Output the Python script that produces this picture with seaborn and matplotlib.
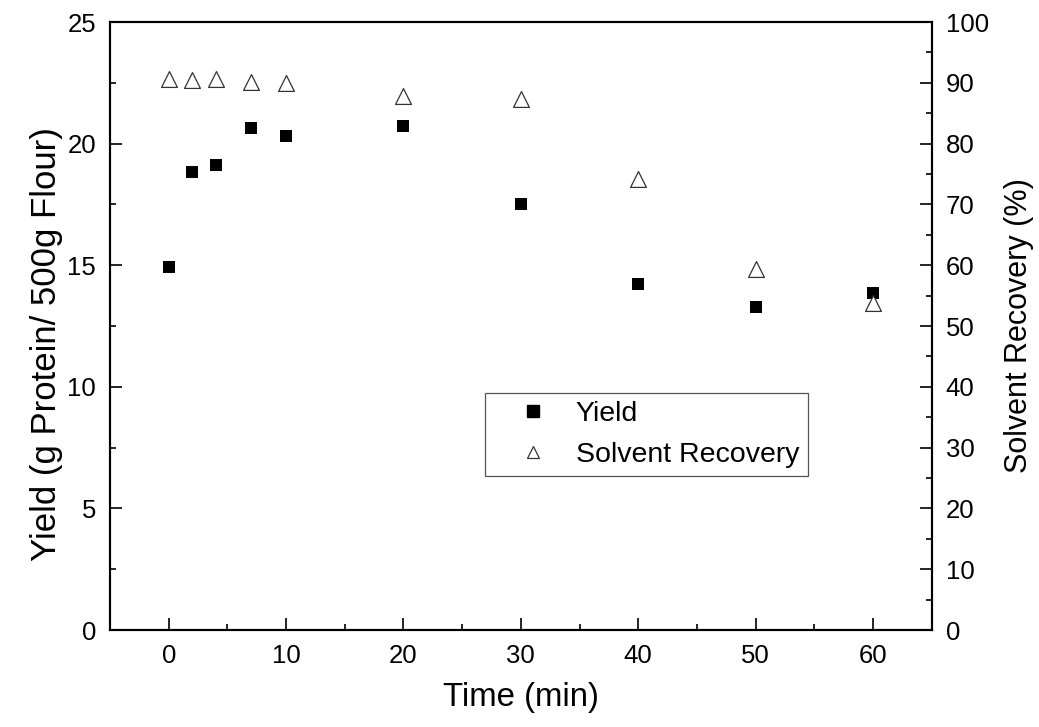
import matplotlib
matplotlib.use("Agg")
import matplotlib.pyplot as plt
from matplotlib.ticker import MultipleLocator
from matplotlib.lines import Line2D
import seaborn as sns
import pandas as pd

time_min = [0, 2, 4, 7, 10, 20, 30, 40, 50, 60]
yield_g = [14.93, 18.82, 19.13, 20.65, 20.30, 20.71, 17.52, 14.21, 13.29, 13.84]
solvent_recovery = [90.6, 90.5, 90.7, 90.2, 90.0, 87.8, 87.3, 74.1, 59.3, 53.8]

df = pd.DataFrame({"time": time_min, "yield": yield_g, "recovery": solvent_recovery})

sns.set_theme(style="ticks")
plt.rcParams["font.family"] = ["Liberation Sans", "DejaVu Sans"]
plt.rcParams["text.color"] = "black"
plt.rcParams["axes.labelcolor"] = "black"
plt.rcParams["xtick.color"] = "black"
plt.rcParams["ytick.color"] = "black"

fig = plt.figure(figsize=(10.39, 7.27), dpi=100)
ax = fig.add_axes([0.1059, 0.1334, 0.7908, 0.8363])
ax2 = ax.twinx()

sns.scatterplot(data=df, x="time", y="yield", ax=ax, marker="s", s=75,
                color="black", edgecolor="black", linewidth=0, zorder=3)
sns.scatterplot(data=df, x="time", y="recovery", ax=ax2, marker="^", s=130,
                facecolor="white", edgecolor="#333333", linewidth=0.9, zorder=3)

ax.set_xlim(-5, 65)
ax.set_ylim(0, 25)
ax2.set_ylim(0, 100)

ax.xaxis.set_major_locator(MultipleLocator(10))
ax.xaxis.set_minor_locator(MultipleLocator(5))
ax.yaxis.set_major_locator(MultipleLocator(5))
ax.yaxis.set_minor_locator(MultipleLocator(2.5))
ax2.yaxis.set_major_locator(MultipleLocator(10))
ax2.yaxis.set_minor_locator(MultipleLocator(5))

for a in (ax, ax2):
    for sp in a.spines.values():
        sp.set_visible(True)
        sp.set_linewidth(1.5)
        sp.set_color("black")
    a.tick_params(which="major", direction="in", length=8.5, width=1.2,
                  labelsize=18.5, colors="black", pad=10)
    a.tick_params(which="minor", direction="in", length=4.5, width=1.2)

ax.tick_params(axis="x", which="both", top=False)
ax.tick_params(axis="y", which="both", right=False, left=True)
ax2.tick_params(axis="y", which="both", left=False, right=True)

ax.set_xlabel("Time (min)", fontsize=23.8, labelpad=10)
ax.set_ylabel("Yield (g Protein/ 500g Flour)", fontsize=25, labelpad=3)
ax.yaxis.label.set_y(0.47)
ax2.set_ylabel("Solvent Recovery (%)", fontsize=22, labelpad=11)

handles = [
    Line2D([], [], linestyle="none", marker="s", markersize=9, color="black"),
    Line2D([], [], linestyle="none", marker="^", markersize=8,
           markerfacecolor="white", markeredgecolor="#333333", markeredgewidth=0.9),
]
leg = ax2.legend(handles, ["Yield", "Solvent Recovery"], loc="upper left",
                 bbox_to_anchor=(0.456, 0.39), fontsize=20.5, frameon=True,
                 fancybox=False, framealpha=1, edgecolor="#555555",
                 borderpad=0.3, handletextpad=0.1, labelspacing=0.5,
                 handlelength=2.8, borderaxespad=0)
leg.get_frame().set_linewidth(0.9)

fig.savefig("out.png", dpi=100)
